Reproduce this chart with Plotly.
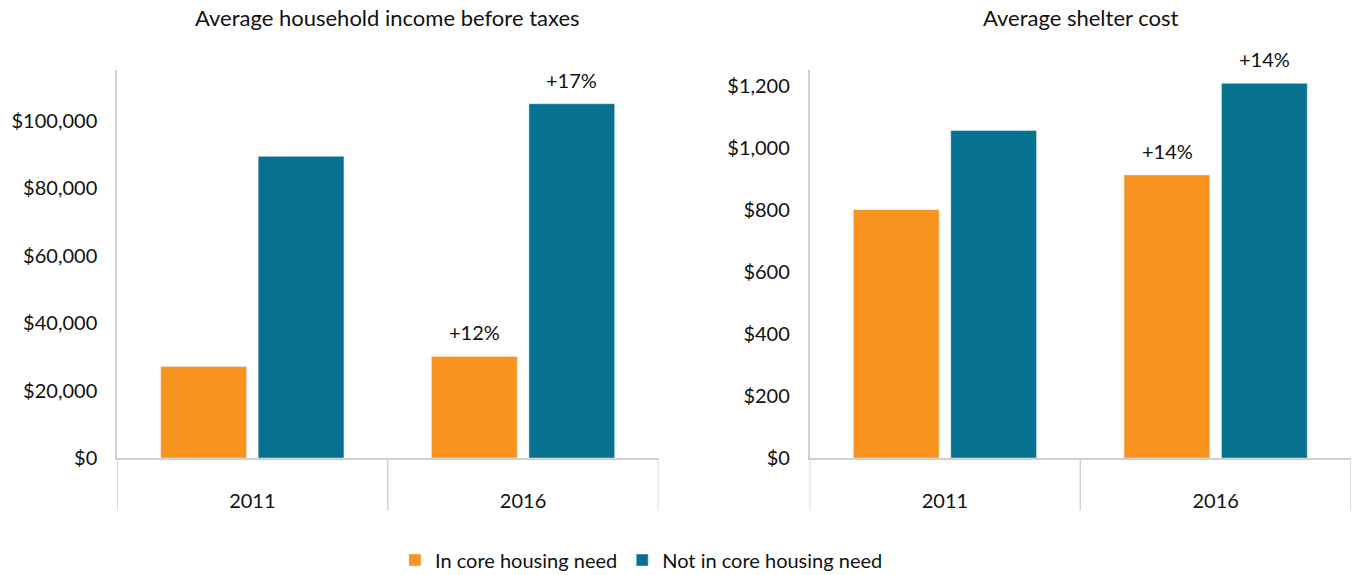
import plotly.graph_objects as go
from plotly.subplots import make_subplots

years = ['2011', '2016']

income_in_need = [27100, 30100]
income_not_in_need = [89400, 105000]
income_in_need_labels = ['', '+12%']
income_not_in_need_labels = ['', '+17%']

shelter_in_need = [800, 912]
shelter_not_in_need = [1055, 1207]
shelter_in_need_labels = ['', '+14%']
shelter_not_in_need_labels = ['', '+14%']

ORANGE = '#F7931E'
TEAL = '#077190'
GRID = '#D0D0D0'
FONT = 'Lato'

fig = make_subplots(
    rows=1, cols=2,
    subplot_titles=("Average household income before taxes", "Average shelter cost"),
    horizontal_spacing=0.1225,
)


def add_pair(col, in_need, not_in_need, lbl_in, lbl_not, show):
    fig.add_trace(go.Bar(
        x=years, y=in_need, name='In core housing need',
        marker_color=ORANGE, showlegend=show, legendgroup='in',
    ), row=1, col=col)
    fig.add_trace(go.Bar(
        x=years, y=not_in_need, name='Not in core housing need',
        marker_color=TEAL, showlegend=show, legendgroup='not',
    ), row=1, col=col)
    # change labels above the bars (x given as category index)
    for vals, lbls, shift in [(in_need, lbl_in, -48.5), (not_in_need, lbl_not, 48.5)]:
        for i, (v, t) in enumerate(zip(vals, lbls)):
            if t:
                fig.add_annotation(x=i, y=v, text=t, showarrow=False, xshift=shift,
                                   yanchor='bottom', yshift=10,
                                   font=dict(size=20, color='#111'), row=1, col=col)


add_pair(1, income_in_need, income_not_in_need,
         income_in_need_labels, income_not_in_need_labels, True)
add_pair(2, shelter_in_need, shelter_not_in_need,
         shelter_in_need_labels, shelter_not_in_need_labels, False)

fig.update_layout(
    width=1353, height=575,
    margin=dict(l=117, r=2, t=70, b=117),
    plot_bgcolor='white', paper_bgcolor='white',
    font=dict(family=FONT, size=20, color='#111'),
    barmode='group', bargap=0.28, bargroupgap=0.12,
    legend=dict(orientation='h', x=0.425, xanchor='center',
                yref='container', y=0.026, yanchor='middle',
                font=dict(size=20), itemwidth=30, traceorder='normal'),
)

for ann in fig.layout.annotations[:2]:
    ann.font = dict(family=FONT, size=22, color='#111')
    ann.y = 1.095

fig.update_xaxes(type='category', range=[-0.5, len(years) - 0.5], showline=True,
                 linecolor=GRID, linewidth=1.5, ticks='', automargin=False,
                 tickfont=dict(size=20), ticklabelstandoff=24, showgrid=False)
fig.update_yaxes(showline=True, linecolor=GRID, linewidth=1.5, showgrid=False, automargin=False,
                 zeroline=False, ticks='', tickfont=dict(size=20), tickprefix='$',
                 tickformat=',d', ticklabelstandoff=14)
fig.update_yaxes(range=[0, 115000], dtick=20000, row=1, col=1)
fig.update_yaxes(range=[0, 1250], dtick=200, row=1, col=2)

# category divider lines below the axis
for xref, yref in [('x', 'y domain'), ('x2', 'y2 domain')]:
    for xb in [-0.5, 0.5, 1.5]:
        fig.add_shape(type='line', xref=xref, yref=yref, x0=xb, x1=xb, y0=0, y1=-0.135,
                      line=dict(color=GRID, width=1.5))

fig.write_html("out.html", config={'displayModeBar': False},
               post_script="document.body.style.margin='0';")
